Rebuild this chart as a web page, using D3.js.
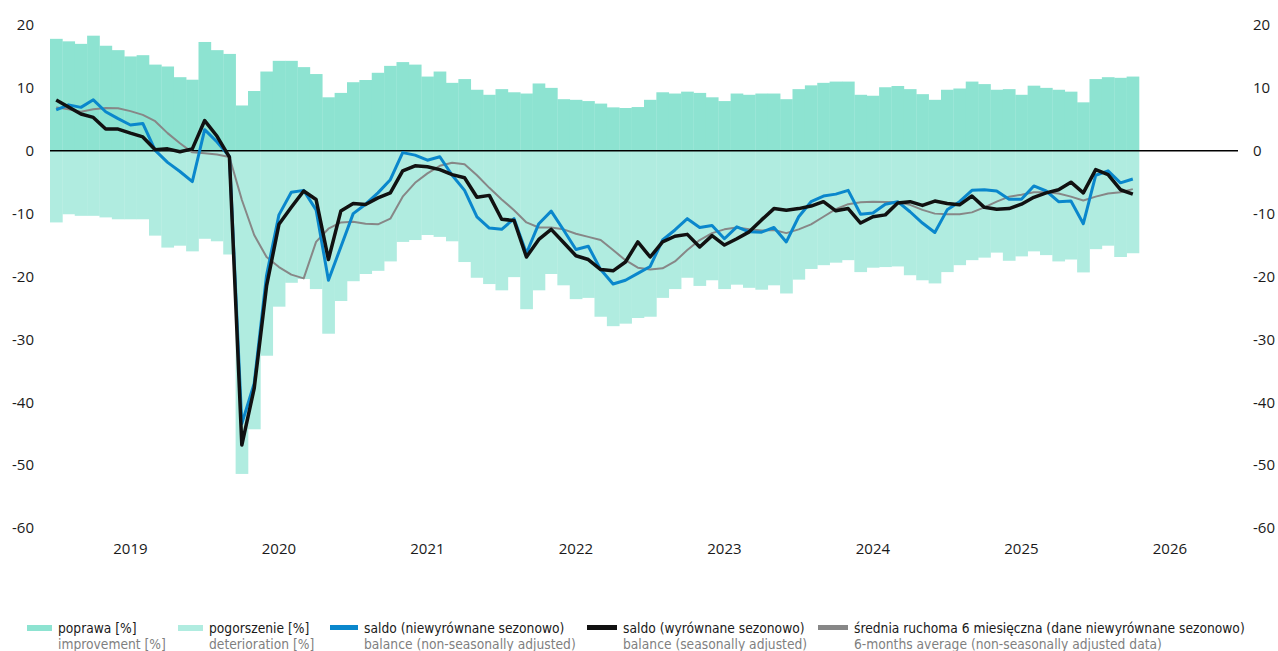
<!DOCTYPE html>
<html>
<head>
<meta charset="utf-8">
<script src="https://cdn.jsdelivr.net/npm/d3@7"></script>
<style>
  body { margin: 0; background: #fff; }
  svg { display: block; }
  .axis text { font-family: "Open Sans", "Noto Sans", sans-serif; font-size: 15px; fill: #1a1a1a; }
  .legend text { font-family: "DejaVu Sans Condensed", "Liberation Sans Narrow", sans-serif; font-size: 13.7px; }
</style>
</head>
<body>
<svg id="chart"></svg>
<script>
// global constants.
const width = 1278;
const height = 651;
const margin = { top: 25, right: 40, bottom: 123, left: 50 };

// years on the axis, monthly categories from Jan 2019
const years = ['2019', '2020', '2021', '2022', '2023', '2024', '2025', '2026'];
const months = years.flatMap((y) => d3.range(1, 13).map((m) => `${y}-${m}`));

const yTicks = [20, 10, 0, -10, -20, -30, -40, -50, -60];

// improvement [%]
const poprawa = [
  17.8, 17.4, 17.0, 18.3, 16.7, 16.0, 15.0, 15.2, 13.7, 13.4, 11.7, 11.3,
  17.3, 16.0, 15.4, 7.2, 9.5, 12.6, 14.3, 14.3, 13.3, 12.2, 8.5, 9.2,
  10.9, 11.25, 12.4, 13.5, 14.1, 13.7, 11.8, 12.6, 10.8, 11.4, 9.7, 8.9,
  9.8, 9.3, 9.1, 10.7, 10.0, 8.2, 8.1, 7.9, 7.5, 6.9, 6.8, 6.95,
  8.1, 9.3, 9.1, 9.4, 9.2, 8.5, 7.9, 9.1, 8.9, 9.1, 9.1, 8.2,
  9.8, 10.4, 10.8, 11.0, 11.0, 8.9, 8.75, 10.1, 10.3, 9.8, 9.0, 8.1,
  9.7, 9.9, 11.0, 10.6, 9.7, 9.8, 8.9, 10.35, 10.0, 9.7, 9.4, 7.7,
  11.4, 11.7, 11.6, 11.8
];

// deterioration [%]
const pogorszenie = [
  -11.4, -10.1, -10.35, -10.35, -10.6, -10.9, -10.9, -10.9, -13.5, -15.4, -15.1, -16.0,
  -14.0, -14.4, -16.5, -51.4, -44.3, -32.6, -24.8, -21.0, -20.4, -22.0, -29.1, -23.9,
  -20.75, -19.6, -19.1, -17.6, -14.5, -14.2, -13.4, -13.7, -14.4, -17.7, -20.2, -21.2,
  -22.2, -20.1, -25.2, -22.2, -19.6, -21.4, -23.6, -23.4, -26.4, -27.9, -27.5, -26.6,
  -26.4, -23.4, -22.0, -20.2, -21.5, -20.6, -22.0, -21.3, -21.8, -22.1, -21.4, -22.7,
  -20.5, -18.8, -18.2, -17.8, -17.4, -19.3, -18.6, -18.5, -18.4, -19.8, -20.6, -21.1,
  -19.3, -18.2, -17.4, -17.0, -16.2, -17.5, -16.8, -16.0, -16.6, -17.6, -17.3, -19.35,
  -15.65, -15.1, -16.9, -16.3
];

// balance, non-seasonally adjusted
const saldoNsa = [
  6.5, 7.3, 6.9, 8.1, 6.2, 5.1, 4.1, 4.35, 0.05, -1.85, -3.3, -4.9,
  3.35, 1.4, -0.9, -43.4, -37.0, -19.8, -10.2, -6.6, -6.3, -9.4, -20.6, -15.3,
  -10.0, -8.5, -6.7, -4.6, -0.3, -0.7, -1.5, -0.95, -3.9, -6.3, -10.5, -12.3,
  -12.5, -10.8, -16.3, -11.6, -9.6, -12.6, -15.7, -15.2, -18.9, -21.2, -20.6, -19.5,
  -18.4, -14.2, -12.6, -10.8, -12.2, -11.9, -14.0, -12.1, -12.9, -12.95, -12.2, -14.5,
  -10.5, -8.1, -7.2, -6.9, -6.3, -10.1, -9.9, -8.5, -8.1, -9.7, -11.5, -13.0,
  -9.4, -8.1, -6.3, -6.2, -6.4, -7.7, -7.7, -5.6, -6.4, -8.1, -8.0, -11.6,
  -3.9, -3.2, -5.1, -4.5
];

// balance, seasonally adjusted
const saldoSa = [
  8.07, 6.95, 5.84, 5.3, 3.45, 3.45, 2.8, 2.2, 0.15, 0.3, -0.15, 0.3,
  4.8, 2.3, -1.0, -46.8, -37.8, -21.5, -11.7, -9.0, -6.4, -7.75, -17.3, -9.6,
  -8.4, -8.55, -7.5, -6.7, -3.2, -2.4, -2.55, -3.0, -3.8, -4.3, -7.4, -7.1,
  -10.9, -11.1, -16.9, -14.1, -12.5, -14.6, -16.7, -17.3, -18.9, -19.1, -17.7, -14.5,
  -16.9, -14.5, -13.6, -13.3, -15.3, -13.5, -15.0, -14.0, -12.9, -11.0, -9.2, -9.45,
  -9.2, -8.8, -8.1, -9.55, -9.2, -11.5, -10.5, -10.2, -8.3, -8.1, -8.7, -8.0,
  -8.4, -8.6, -7.2, -9.0, -9.3, -9.2, -8.5, -7.4, -6.7, -6.2, -5.0, -6.7,
  -3.0, -3.8, -6.2, -6.9
];

// 6-months moving average (non-seasonally adjusted data)
const srednia6m = [
  6.9, 6.6, 6.2, 6.6, 6.8, 6.75, 6.3, 5.7, 4.7, 2.8, 1.2, -0.25,
  -0.4, -0.6, -1.0, -7.8, -13.4, -16.9, -18.5, -19.7, -20.3, -14.5, -12.4, -11.4,
  -11.3, -11.6, -11.7, -10.8, -7.3, -5.1, -3.6, -2.4, -1.9, -2.15, -3.9, -5.9,
  -7.75, -9.45, -11.4, -12.2, -12.2, -12.5, -13.2, -13.7, -14.2, -15.8, -17.4, -18.6,
  -18.9, -18.7, -17.6, -15.8, -14.2, -13.1, -12.5, -12.2, -12.5, -12.7, -12.6, -13.1,
  -12.5, -11.7, -10.5, -9.3, -8.5, -8.2, -8.1, -8.15, -8.2, -8.6, -9.4, -10.0,
  -10.1, -10.1, -9.8, -9.0, -8.1, -7.3, -7.0, -6.6, -6.6, -6.8, -7.3, -7.9,
  -7.3, -6.8, -6.6, -6.1
];

const legendPl = [
  'poprawa [%]',
  'pogorszenie [%]',
  'saldo (niewyrównane sezonowo)',
  'saldo (wyrównane sezonowo)',
  'średnia ruchoma 6 miesięczna (dane niewyrównane sezonowo)'
];
const legendEn = [
  'improvement [%]',
  'deterioration [%]',
  'balance (non-seasonally adjusted)',
  'balance (seasonally adjusted)',
  '6-months average (non-seasonally adjusted data)'
];
const colors = ['#8de3d1', '#b0ece0', '#0a87cc', '#111111', '#878787'];

// Drawing area for the chart
const svg = d3.select('#chart')
  .attr('width', width)
  .attr('height', height);

const x = d3.scaleBand()
  .domain(months)
  .range([margin.left, width - margin.right])
  .padding(0);

const y = d3.scaleLinear()
  .domain([-60, 20])
  .range([height - margin.bottom, margin.top]);

const dataMonths = months.slice(0, poprawa.length);

// bars: improvement above zero, deterioration below
svg.append('g')
  .selectAll('rect')
  .data(dataMonths)
  .join('rect')
  .attr('x', (m) => x(m))
  .attr('width', x.bandwidth() + 0.3)
  .attr('y', (m, i) => y(poprawa[i]))
  .attr('height', (m, i) => y(0) - y(poprawa[i]))
  .attr('fill', colors[0]);

svg.append('g')
  .selectAll('rect')
  .data(dataMonths)
  .join('rect')
  .attr('x', (m) => x(m))
  .attr('width', x.bandwidth() + 0.3)
  .attr('y', y(0))
  .attr('height', (m, i) => y(pogorszenie[i]) - y(0))
  .attr('fill', colors[1]);

// zero line
svg.append('line')
  .attr('x1', x.range()[0])
  .attr('x2', x.range()[1])
  .attr('y1', y(0))
  .attr('y2', y(0))
  .attr('stroke', '#000')
  .attr('stroke-width', 1.5);

// lines
const line = d3.line()
  .x((d) => x(d[0]) + x.bandwidth() / 2)
  .y((d) => y(d[1]));

const series = [
  { values: srednia6m, color: colors[4], w: 2 },
  { values: saldoNsa, color: colors[2], w: 3 },
  { values: saldoSa, color: colors[3], w: 3.5 }
];

series.forEach((s) => {
  svg.append('path')
    .datum(dataMonths.map((m, i) => [m, s.values[i]]))
    .attr('fill', 'none')
    .attr('stroke', s.color)
    .attr('stroke-width', s.w)
    .attr('stroke-linejoin', 'round')
    .attr('d', line);
});

// plain hyphen for negative numbers, like the original
const tickFmt = (d) => String(d);

// y axes, left and right
const yAxisLeft = d3.axisLeft(y).tickValues(yTicks).tickFormat(tickFmt).tickSize(0).tickPadding(16);
svg.append('g')
  .attr('class', 'axis')
  .attr('transform', `translate(${margin.left}, 0)`)
  .call(yAxisLeft)
  .call((g) => g.select('.domain').remove());

const yAxisRight = d3.axisRight(y).tickValues(yTicks).tickFormat(tickFmt).tickSize(0).tickPadding(15);
svg.append('g')
  .attr('class', 'axis')
  .attr('transform', `translate(${width - margin.right}, 0)`)
  .call(yAxisRight)
  .call((g) => g.select('.domain').remove());

// x axis, year labels under July
const xAxis = d3.axisBottom(x)
  .tickValues(years.map((yr) => `${yr}-7`))
  .tickFormat((m) => m.split('-')[0])
  .tickSize(0)
  .tickPadding(15);
svg.append('g')
  .attr('class', 'axis')
  .attr('transform', `translate(0, ${y(-60)})`)
  .call(xAxis)
  .call((g) => g.select('.domain').remove());

// The Legend
const legendX = [27, 178, 330, 587, 818];
const swatchW = [25, 25, 28, 30, 30];
const legend = svg.append('g').attr('class', 'legend');

legendPl.forEach((label, i) => {
  const item = legend.append('g').attr('transform', `translate(${legendX[i]}, 628)`);
  item.append('rect')
    .attr('x', 0)
    .attr('y', -3)
    .attr('width', swatchW[i])
    .attr('height', i >= 2 ? 5 : 6)
    .attr('fill', colors[i]);
  item.append('text')
    .attr('x', swatchW[i] + 6)
    .attr('y', 5)
    .attr('fill', '#1a1a1a')
    .text(label);
  item.append('text')
    .attr('x', swatchW[i] + 6)
    .attr('y', 21)
    .attr('fill', '#7f7f7f')
    .text(legendEn[i]);
});
</script>
</body>
</html>
